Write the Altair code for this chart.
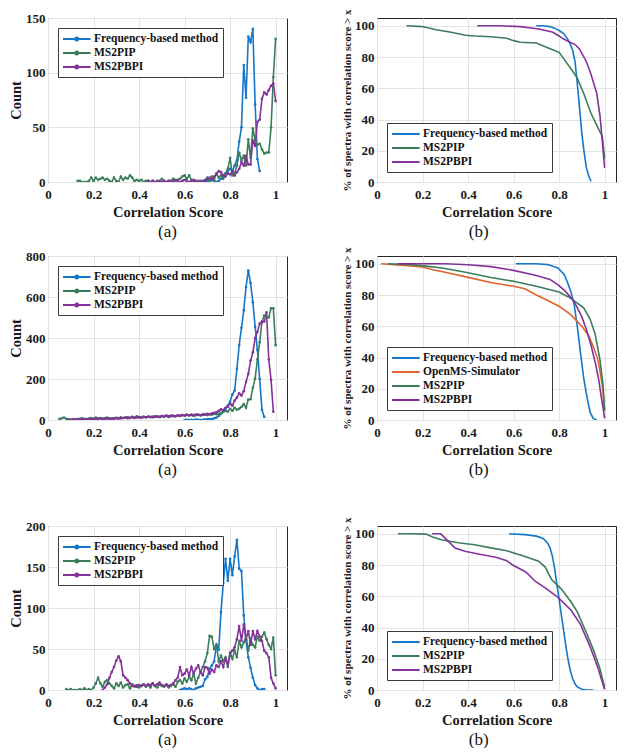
import altair as alt
import pandas as pd

FONT = "Liberation Serif"
COL = {
    "Frequency-based method": "#1477C9",
    "OpenMS-Simulator": "#E2632B",
    "MS2PIP": "#3B7D5A",
    "MS2PBPI": "#86309A",
}
M3 = ["Frequency-based method", "MS2PIP", "MS2PBPI"]
M4 = ["Frequency-based method", "OpenMS-Simulator", "MS2PIP", "MS2PBPI"]
XTICKS = [0, 0.2, 0.4, 0.6, 0.8, 1]
BIN = 0.01

# ---------------- Row 1 histograms (bin starts, counts per 0.01 bin) ----------------
H1_FREQ_START = 0.69
H1_FREQ = [0, 1, 0, 2, 1, 0, 1, 3, 5, 8, 10, 12, 10, 15, 20, 37, 50, 107, 77, 133, 128, 140, 71, 21, 10]
H1_PIP_START = 0.13
H1_PIP = [1, 1, 0, 0, 0, 1, 4, 1, 4, 2,
          3, 4, 2, 3, 1, 0, 4, 1, 0, 5,
          2, 4, 3, 6, 4, 1, 2, 1, 2, 0,
          1, 1, 0, 1, 0, 1, 0, 3, 1, 0,
          1, 1, 3, 1, 2, 3, 5, 6, 3, 6,
          2, 1, 0, 1, 0, 1, 2, 4, 1, 5,
          2, 8, 4, 6, 3, 8, 12, 22, 6, 8,
          15, 27, 20, 24, 15, 39, 22, 49, 38, 34,
          35, 30, 26, 27, 27, 50, 96, 131]
H1_PBPI_START = 0.44
H1_PBPI = [1, 0, 1, 0, 0, 1, 0, 1, 0, 1,
           0, 1, 2, 1, 0, 1, 2, 1, 0, 1,
           2, 1, 0, 1, 0, 1, 3, 4, 2, 5,
           7, 10, 9, 6, 5, 8, 7, 10, 6, 9,
           12, 18, 15, 24, 16, 16, 38, 33, 55, 57,
           76, 82, 80, 84, 88, 90, 74]

# ---------------- Row 2 histograms ----------------
H2_FREQ_START = 0.60
H2_FREQ = [0, 1, 0, 1, 0, 2, 1, 0, 1, 2,
           3, 5, 5, 8, 12, 20, 30, 40, 55, 70,
           90, 124, 144, 250, 366, 450, 535, 649, 729, 668,
           575, 455, 341, 200, 50, 15]
H2_PIP_START = 0.05
H2_PIP = [5, 8, 12, 6, 3, 2, 4, 3, 5, 6,
          8, 6, 5, 7, 9, 6, 12, 8, 10, 7,
          9, 12, 8, 6, 10, 11, 9, 13, 10, 12,
          14, 10, 16, 12, 18, 14, 12, 15, 13, 17,
          15, 13, 18, 16, 14, 19, 17, 20, 15, 18,
          20, 17, 22, 19, 24, 21, 25, 22, 24, 20,
          23, 26, 22, 25, 27, 24, 28, 26, 30, 28,
          30, 35, 40, 45, 40, 55, 45, 60, 50, 55,
          64, 78, 60, 100, 101, 157, 203, 295, 380, 480,
          510, 505, 500, 545, 545, 365]
H2_PBPI_START = 0.09
H2_PBPI = [2, 0, 1, 3, 2, 4, 3, 2, 5, 3,
           4, 6, 3, 5, 7, 4, 6, 8, 5, 7,
           6, 9, 7, 8, 10, 12, 9, 11, 13, 10,
           12, 14, 11, 15, 13, 16, 14, 17, 15, 18,
           16, 19, 17, 21, 18, 22, 20, 19, 23, 21,
           24, 22, 25, 23, 26, 24, 27, 25, 23, 28,
           26, 30, 28, 32, 35, 38, 45, 52, 48, 60,
           65, 80, 70, 95, 110, 130, 120, 140, 186, 225,
           290, 330, 400, 430, 470, 478, 480, 525, 295, 195, 40]

# ---------------- Row 3 histograms ----------------
H3_FREQ_START = 0.58
H3_FREQ = [0, 1, 2, 1, 2, 1, 0, 2, 3, 4,
           5, 13, 16, 26, 30, 35,
           55, 49, 95, 130, 160, 133, 160, 140, 163, 183,
           148, 145, 91, 60, 40, 27, 15, 6, 2, 0, 1, 1]
H3_PIP_START = 0.08
H3_PIP = [1, 0, 1, 0, 0, 0, 1, 0, 2, 0,
          1, 0, 3, 8, 15, 8, 4, 10, 12, 8,
          5, 2, 8, 5, 9, 3, 6, 7, 2, 7,
          4, 6, 3, 5, 7, 4, 6, 3, 8, 5,
          3, 7, 5, 4, 6, 3, 5, 7, 4, 10,
          12, 8, 14, 10, 16, 12, 20, 8, 15, 22,
          28, 35, 45, 66, 65, 50, 55, 35, 42, 35,
          40, 28, 45, 38, 48, 40, 60, 52, 58, 65,
          48, 62, 55, 52, 65, 60, 65, 70, 62, 55,
          50, 64, 18]
H3_PBPI_START = 0.24
H3_PBPI = [0, 3, 7, 15, 22, 28, 36, 41, 35, 18,
           15, 12, 8, 5, 5, 4, 6, 5, 7, 5,
           7, 6, 8, 5, 7, 9, 6, 5, 7, 5,
           6, 8, 12, 15, 28, 18, 20, 25, 18, 28,
           20, 26, 30, 22, 18, 28, 27, 20, 25, 22,
           30, 28, 35, 28, 38, 32, 45, 48, 52, 62,
           78, 60, 80, 62, 72, 55, 72, 62, 72, 65,
           60, 48, 45, 40, 15, 8, 2]

# ---------------- Row 1 survival curves ----------------
C1_FREQ_X = [0.70, 0.73, 0.76, 0.78, 0.80, 0.82, 0.84, 0.85, 0.86, 0.87, 0.88, 0.89, 0.90, 0.91, 0.92, 0.93, 0.94]
C1_FREQ_Y = [100, 100, 99.5, 98.5, 97, 95, 91, 88, 84, 77, 63, 47, 31, 19, 9, 4, 0.5]
C1_PIP_X = [0.13, 0.20, 0.26, 0.32, 0.39, 0.43, 0.50, 0.57, 0.60, 0.63, 0.70, 0.75, 0.80, 0.82, 0.85, 0.88, 0.91, 0.94, 0.97, 0.99, 1.00]
C1_PIP_Y = [100, 99.5, 97.5, 96, 94, 93.5, 93, 92, 90.5, 89.5, 89, 86, 83, 79, 73, 66.5, 56, 44, 35, 29, 15]
C1_PBPI_X = [0.44, 0.54, 0.63, 0.71, 0.77, 0.80, 0.82, 0.87, 0.89, 0.92, 0.94, 0.965, 0.98, 0.99, 1.00]
C1_PBPI_Y = [100, 100, 99.5, 98, 96, 93.5, 91.5, 88, 85, 77, 69, 57, 42, 26, 9]

# ---------------- Row 2 survival curves ----------------
C2_FREQ_X = [0.61, 0.70, 0.75, 0.795, 0.823, 0.837, 0.852, 0.866, 0.88, 0.894, 0.908, 0.922, 0.936, 0.95, 0.965]
C2_FREQ_Y = [100, 100, 99.5, 97.3, 93, 88, 82, 74, 60, 43, 27, 15, 5, 1, 0]
C2_OPEN_X = [0.018, 0.06, 0.15, 0.20, 0.25, 0.30, 0.40, 0.50, 0.60, 0.65, 0.70, 0.75, 0.80, 0.85, 0.90, 0.93, 0.95, 0.97, 0.98, 0.99, 1.00]
C2_OPEN_Y = [100, 99.6, 98.7, 98, 96, 94.6, 91.3, 88, 85.6, 84, 80, 76.5, 72.8, 67.6, 60, 54, 47, 39, 31, 22, 6]
C2_PIP_X = [0.046, 0.146, 0.216, 0.287, 0.40, 0.50, 0.60, 0.70, 0.80, 0.85, 0.908, 0.936, 0.958, 0.979, 0.993, 1.00]
C2_PIP_Y = [100, 99.5, 98.5, 97.3, 94.3, 91.2, 88.8, 85.6, 82, 78, 71.8, 64.6, 55.3, 39, 22.5, 6]
C2_PBPI_X = [0.089, 0.30, 0.40, 0.50, 0.60, 0.70, 0.76, 0.80, 0.83, 0.86, 0.88, 0.90, 0.92, 0.94, 0.96, 0.975, 0.985, 0.993, 1.00]
C2_PBPI_Y = [100, 100, 99.4, 98.2, 95.8, 92.5, 90, 86, 82, 77, 72, 66, 58, 48, 36, 25, 15, 8, 1]

# ---------------- Row 3 survival curves ----------------
C3_FREQ_X = [0.58, 0.65, 0.70, 0.73, 0.75, 0.76, 0.77, 0.78, 0.79, 0.80, 0.81, 0.82, 0.83, 0.84, 0.85, 0.86, 0.87, 0.88, 0.90, 0.92, 0.95]
C3_FREQ_Y = [100, 99.5, 98.5, 97, 94, 91, 86, 78, 68, 58, 48, 38, 28, 19, 12, 7, 4, 2, 0.5, 0, 0]
C3_PIP_X = [0.092, 0.146, 0.216, 0.244, 0.287, 0.357, 0.428, 0.50, 0.57, 0.64, 0.71, 0.739, 0.767, 0.81, 0.852, 0.88, 0.922, 0.95, 0.979, 1.00]
C3_PIP_Y = [100, 100, 99.8, 98, 96, 94.3, 93, 91, 89.2, 86, 82.5, 78.7, 70.7, 64.6, 56.5, 50, 36, 26, 14, 1.6]
C3_PBPI_X = [0.242, 0.28, 0.315, 0.343, 0.386, 0.456, 0.527, 0.57, 0.60, 0.654, 0.696, 0.739, 0.795, 0.852, 0.894, 0.936, 0.972, 0.993, 1.00]
C3_PBPI_Y = [100, 100, 95, 90.9, 88.8, 86.8, 84.8, 82.7, 79.7, 75.6, 69.5, 65.4, 59.3, 51.2, 42, 27.8, 13.6, 3.5, 0.4]


def hist_df(series):
    rows = []
    for name, start, vals in series:
        for i, v in enumerate(vals):
            rows.append({"x": round(start + BIN * i, 3), "y": v, "method": name})
    return pd.DataFrame(rows)


def cdf_df(series):
    rows = []
    for name, xs, ys in series:
        for a, b in zip(xs, ys):
            rows.append({"x": a, "y": b, "method": name})
    return pd.DataFrame(rows)


W_L, W_R, H = 239, 239, 164
SYM_DOT = "M-1,0H3.6M1.05,0A0.25,0.25,0,1,1,1.55,0A0.25,0.25,0,1,1,1.05,0"
SYM_LINE = "M-1,0H3.6"


def panel(df, methods, ymax, yticks, ytitle, ytitlesize, orient, caption, frame, width, hist):
    legend = alt.Legend(
        title=None, orient=orient, offset=10,
        fillColor="white", strokeColor="#3a3a3a",
        padding=4, cornerRadius=0,
        labelFont=FONT, labelFontWeight="bold", labelFontSize=11.5, labelColor="#111",
        labelLimit=400, labelOffset=18,
        symbolType=SYM_DOT if hist else SYM_LINE, symbolSize=144,
        symbolStrokeWidth=2, rowPadding=1,
    )
    color = alt.Color("method:N", sort=methods,
                      scale=alt.Scale(domain=methods, range=[COL[m] for m in methods]),
                      legend=legend)
    x = alt.X("x:Q", scale=alt.Scale(domain=[0, 1.05], nice=False, zero=False),
              axis=alt.Axis(values=XTICKS, format="~g", title="Correlation Score", labelFlush=False,
                            labelPadding=6, titlePadding=4))
    y = alt.Y("y:Q", scale=alt.Scale(domain=[0, ymax], nice=False),
              axis=alt.Axis(values=yticks, title=ytitle, titleFontSize=ytitlesize))
    if hist:
        mark = alt.Chart(df).mark_line(strokeWidth=1.6, clip=True,
                                        point=alt.OverlayMarkDef(size=7, filled=True, opacity=1))
    else:
        mark = alt.Chart(df).mark_line(strokeWidth=1.6, clip=True)
    ch = mark.encode(x=x, y=y, color=color, detail="method:N").properties(
        width=width, height=H,
        title=alt.TitleParams(caption, orient="bottom", anchor="middle", frame=frame,
                              font=FONT, fontSize=17, fontWeight="normal", color="#111", offset=5),
    )
    return ch


def row(hseries, cseries, cmethods, ymax, yticks):
    left = panel(hist_df(hseries), M3, ymax, yticks, "Count", 14.5, "top-left", "(a)", "group", W_L, True)
    right = panel(cdf_df(cseries), cmethods, 105, [0, 20, 40, 60, 80, 100],
                  "% of spectra with correlation score > x", 11, "bottom-left", "(b)", "bounds", W_R, False)
    return alt.hconcat(left, right, spacing=53).resolve_scale(color="independent").resolve_legend(color="independent")


r1 = row([("Frequency-based method", H1_FREQ_START, H1_FREQ),
          ("MS2PIP", H1_PIP_START, H1_PIP),
          ("MS2PBPI", H1_PBPI_START, H1_PBPI)],
         [("Frequency-based method", C1_FREQ_X, C1_FREQ_Y),
          ("MS2PIP", C1_PIP_X, C1_PIP_Y),
          ("MS2PBPI", C1_PBPI_X, C1_PBPI_Y)], M3, 150, [0, 50, 100, 150])
r2 = row([("Frequency-based method", H2_FREQ_START, H2_FREQ),
          ("MS2PIP", H2_PIP_START, H2_PIP),
          ("MS2PBPI", H2_PBPI_START, H2_PBPI)],
         [("Frequency-based method", C2_FREQ_X, C2_FREQ_Y),
          ("OpenMS-Simulator", C2_OPEN_X, C2_OPEN_Y),
          ("MS2PIP", C2_PIP_X, C2_PIP_Y),
          ("MS2PBPI", C2_PBPI_X, C2_PBPI_Y)], M4, 800, [0, 200, 400, 600, 800])
r3 = row([("Frequency-based method", H3_FREQ_START, H3_FREQ),
          ("MS2PIP", H3_PIP_START, H3_PIP),
          ("MS2PBPI", H3_PBPI_START, H3_PBPI)],
         [("Frequency-based method", C3_FREQ_X, C3_FREQ_Y),
          ("MS2PIP", C3_PIP_X, C3_PIP_Y),
          ("MS2PBPI", C3_PBPI_X, C3_PBPI_Y)], M3, 200, [0, 50, 100, 150, 200])

top = alt.vconcat(r1, r2, spacing=6).resolve_scale(color="independent").resolve_legend(color="independent")
chart = alt.vconcat(top, r3, spacing=38).resolve_scale(color="independent").resolve_legend(color="independent")

chart = chart.configure(
    padding={"left": 0, "top": 0, "right": 0, "bottom": 0},
    background="white",
).configure_view(
    stroke="#262626", strokeWidth=1,
).configure_legend(
    strokeWidth=1,
).configure_axis(
    grid=True, gridColor="#e3e3e3", gridWidth=1,
    domain=False, ticks=False,
    labelFont=FONT, labelFontWeight="bold", labelFontSize=13, labelColor="#1a1a1a", labelPadding=3,
    titleFont=FONT, titleFontWeight="bold", titleColor="#1a1a1a", titleFontSize=14.5, titlePadding=3,
).configure_axisY(
    titlePadding=2,
)

chart.save("out.html", embed_options={"renderer": "svg", "actions": False})
